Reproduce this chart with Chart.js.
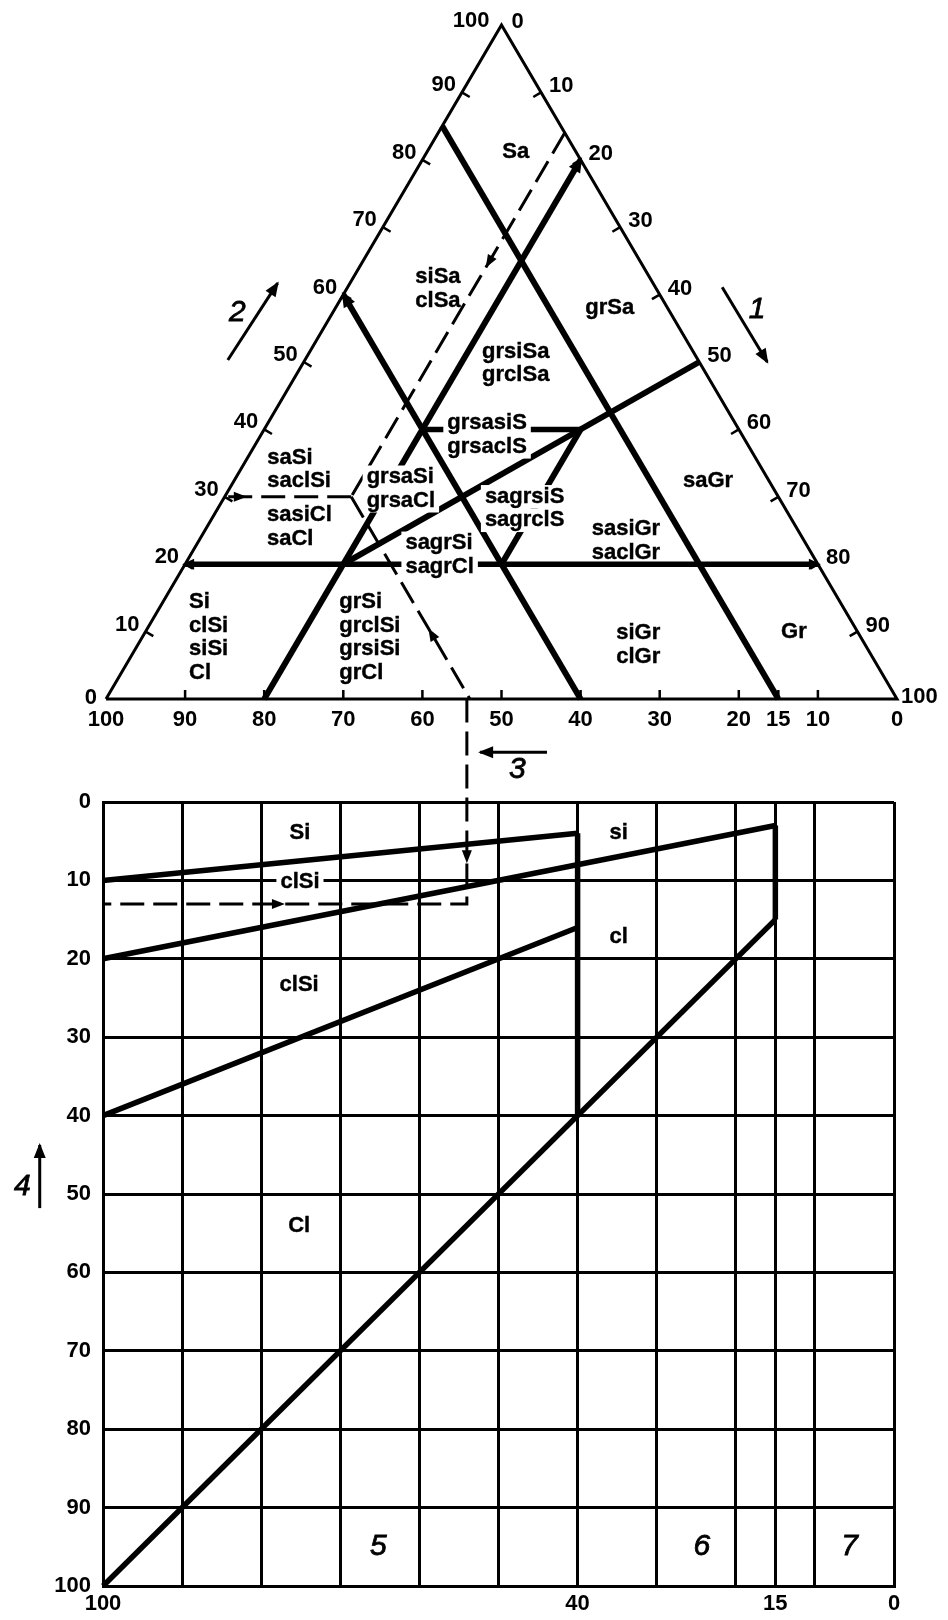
<!DOCTYPE html>
<html>
<head>
<meta charset="utf-8">
<script src="https://cdn.jsdelivr.net/npm/chart.js@4.4.1/dist/chart.umd.min.js"></script>
<style>
  html, body { margin: 0; padding: 0; background: #fff; }
  #wrap { position: relative; width: 948px; height: 1620px; }
  #ternary { position: absolute; left: 0; top: 0; }
  #grid { position: absolute; left: 0; top: 690px; }
</style>
</head>
<body>
<div id="wrap">
  <canvas id="ternary" width="948" height="790"></canvas>
  <canvas id="grid" width="948" height="930"></canvas>
</div>
<script>
// ---------- ternary diagram, points are [sand, gravel] ----------
// sand is read on the left side, gravel on the right side, fines (100 - sand - gravel) on the base
const sideValues = [0, 10, 20, 30, 40, 50, 60, 70, 80, 90, 100];
const sideTicks = [10, 20, 30, 40, 50, 60, 70, 80, 90];
const baseValues = [100, 90, 80, 70, 60, 50, 40, 30, 20, 15, 10, 0];
const baseTicks = [90, 80, 70, 60, 50, 40, 30, 20, 15, 10];

const outline = [[0, 0], [100, 0], [0, 100], [0, 0]];
const sand20 = [[20, 0], [20, 80]];
const gravel20 = [[0, 20], [80, 20]];
const fines40 = [[0, 60], [60, 0]];
const fines15 = [[0, 85], [85, 0]];
const sandEqGravel = [[20, 20], [50, 50]];
const sand40 = [[40, 20], [40, 40]];
const gravel40 = [[20, 40], [40, 40]];

// worked example: sand 30, gravel 16 -> fines 54
const exGravel = [[84, 16], [30, 16]];
const exSand = [[30, 16], [30, 0]];
const exFines = [[30, 16], [0, 46]];
const exArrows = [[[69, 16], [64, 16]], [[30, 0.8], [30, 2.8]], [[5.5, 40.5], [10.5, 35.5]]];

// mask: the name sits on a boundary line and hides it
const regionLabels = [
  { text: ['Sa'], at: [81.2, 9.5] },
  { text: ['siSa', 'clSa'], at: [62.6, 7.8] },
  { text: ['grSa'], at: [58.0, 31.6] },
  { text: ['grsiSa', 'grclSa'], at: [51.5, 21.8] },
  { text: ['grsasiS', 'grsaclS'], at: [40.9, 22.7], mask: true },
  { text: ['saSi', 'saclSi'], at: [35.8, 2.5] },
  { text: ['grsaSi', 'grsaCl'], at: [32.9, 16.5], mask: true },
  { text: ['sasiCl', 'saCl'], at: [27.3, 6.7] },
  { text: ['sagrsiS', 'sagrclS'], at: [30.0, 32.9], mask: true },
  { text: ['saGr'], at: [32.3, 56.8] },
  { text: ['sasiGr', 'saclGr'], at: [25.2, 48.8] },
  { text: ['sagrSi', 'sagrCl'], at: [23.1, 26.3], mask: true },
  { text: ['Si', 'clSi', 'siSi', 'Cl'], at: [14.4, 3.3] },
  { text: ['grSi', 'grclSi', 'grsiSi', 'grCl'], at: [14.4, 22.3] },
  { text: ['siGr', 'clGr'], at: [9.8, 59.6] },
  { text: ['Gr'], at: [9.9, 80.4] }
];

// direction arrows around the triangle, plain chart units [x, y]
const arrow1 = [[77.9, 61.1], [83.6, 50.0]];
const arrow2 = [[15.4, 50.3], [21.7, 61.7]];
const arrow3 = [[55.75, -7.9], [47.3, -7.9]];
const arrowNames = [{ text: '1', at: [82.3, 57.7] }, { text: '2', at: [16.6, 57.3] }, { text: '3', at: [52, -10.5] }];

// ---------- lower chart, points are [fines, clay] ----------
const finesGrid = [100, 90, 80, 70, 60, 50, 40, 30, 20, 15, 10, 0];
const finesLabels = [100, 40, 15, 0];
const clayGrid = [0, 10, 20, 30, 40, 50, 60, 70, 80, 90, 100];

const siBound = [[100, 10], [40, 4]];
const clSiUpper = [[100, 20], [15, 3]];
const clSiLower = [[100, 40], [40, 16]];
const fines40Edge = [[40, 4], [40, 40]];
const fines15Edge = [[15, 3], [15, 15]];
const clayEqFines = [[100, 100], [15, 15]];
const exClay = [[54, -13.2], [54, 13], [100, 13]]; // -13.2 reaches up to the triangle base
const exClayArrows = [[[54, 4], [54, 7.8]], [[81, 13], [77, 13]]];
const arrow4 = [[108, 51.8], [108, 43.75]];

const gridLabels = [
  { text: 'Si', at: [75.1, 4.0] },
  { text: 'si', at: [34.8, 4.0] },
  { text: 'clSi', at: [75.1, 10.2], mask: true },
  { text: 'cl', at: [34.8, 17.2] },
  { text: 'clSi', at: [75.2, 23.3] },
  { text: 'Cl', at: [75.2, 54.1] }
];
const zoneNames = [{ text: '5', at: [65.2, 95] }, { text: '6', at: [24.3, 95] }, { text: '7', at: [5.6, 95] }, { text: '4', at: [110.2, 49.1] }];

// ---------- helpers ----------
const FONT = '"Liberation Sans", Arial, sans-serif';
const tern = ([s, g]) => ({ x: g + s / 2, y: s });
const plain = ([x, y]) => ({ x, y });

function seg(points, conv, width, extra) {
  return Object.assign({
    data: points.map(conv), showLine: true, borderColor: '#000', borderWidth: width,
    pointRadius: 0, pointHoverRadius: 0, clip: false, fill: false
  }, extra || {});
}

function unitVec(dx, dy) {
  const n = Math.hypot(dx, dy) || 1;
  return [dx / n, dy / n];
}

function arrowHead(ctx, from, tip, len, half, push) {
  const [ux, uy] = unitVec(tip.x - from.x, tip.y - from.y);
  const tx = tip.x + ux * push, ty = tip.y + uy * push;
  const bx = tx - ux * len, by = ty - uy * len;
  ctx.beginPath();
  ctx.moveTo(tx, ty);
  ctx.lineTo(bx - uy * half, by + ux * half);
  ctx.lineTo(bx + uy * half, by - ux * half);
  ctx.closePath();
  ctx.fillStyle = '#000';
  ctx.fill();
}

function datasetArrows(chart) {
  chart.data.datasets.forEach((ds, i) => {
    const pts = chart.getDatasetMeta(i).data;
    const n = pts.length;
    if (n < 2) return;
    if (ds.arrowEnd) arrowHead(chart.ctx, pts[n - 2], pts[n - 1], ds.arrowLen, ds.arrowHalf, ds.arrowPush || 0);
    if (ds.arrowStart) arrowHead(chart.ctx, pts[1], pts[0], ds.arrowLen, ds.arrowHalf, ds.arrowPush || 0);
  });
}

function heavyText(ctx, t, x, y) {
  ctx.fillText(t, x, y);
  ctx.strokeText(t, x, y);
}

function labelLines(ctx, lines, x, y, align, gap, mask) {
  ctx.textAlign = 'left';
  ctx.textBaseline = 'middle';
  ctx.strokeStyle = '#000';
  ctx.lineWidth = 0.4;
  lines.forEach((t, i) => {
    const w = ctx.measureText(t).width;
    const cy = y + i * gap;
    const left = align === 'center' ? x - w / 2 : x;
    if (mask) {
      ctx.fillStyle = '#fff';
      ctx.fillRect(left - 4, cy - gap / 2, w + 8, gap);
    }
    ctx.fillStyle = '#000';
    heavyText(ctx, t, left, cy);
  });
}

// ---------- triangle ----------
const ternaryDecor = {
  id: 'ternaryDecor',
  afterDatasetsDraw(chart) {
    const { ctx } = chart;
    const sx = chart.scales.x, sy = chart.scales.y;
    const P = (s, g) => ({ x: sx.getPixelForValue(g + s / 2), y: sy.getPixelForValue(s) });
    const apex = P(100, 0), left = P(0, 0), right = P(0, 100);
    const [lx, ly] = unitVec(apex.x - left.x, apex.y - left.y);
    const [rx, ry] = unitVec(right.x - apex.x, right.y - apex.y);
    const tick = 9;

    ctx.save();
    datasetArrows(chart);
    exArrows.forEach(([a, b]) => arrowHead(ctx, P(a[0], a[1]), P(b[0], b[1]), 13, 5, 0));

    // tick marks pointing into the triangle
    ctx.strokeStyle = '#000';
    ctx.lineWidth = 2.5;
    ctx.beginPath();
    sideTicks.forEach(v => {
      const p = P(v, 0);
      ctx.moveTo(p.x, p.y); ctx.lineTo(p.x - ly * tick, p.y + lx * tick);
      const q = P(100 - v, v);
      ctx.moveTo(q.x, q.y); ctx.lineTo(q.x - ry * tick, q.y + rx * tick);
    });
    baseTicks.forEach(v => {
      const p = P(0, 100 - v);
      ctx.moveTo(p.x, p.y); ctx.lineTo(p.x, p.y - tick);
    });
    ctx.stroke();

    // tick labels
    ctx.fillStyle = '#000';
    ctx.font = 'bold 22px ' + FONT;
    ctx.textBaseline = 'middle';
    ctx.textAlign = 'right';
    sideValues.forEach(v => {
      const p = P(v, 0);
      const off = v === 0 ? [-9, -1] : v === 100 ? [-12, -4] : [-6, -7];
      ctx.fillText(String(v), p.x + off[0], p.y + off[1]);
    });
    ctx.textAlign = 'left';
    sideValues.forEach(v => {
      const p = P(100 - v, v);
      const off = v === 0 ? [10, -3] : v === 100 ? [4, -2] : [8, -6];
      ctx.fillText(String(v), p.x + off[0], p.y + off[1]);
    });
    ctx.textAlign = 'center';
    baseValues.forEach(v => {
      const p = P(0, 100 - v);
      ctx.fillText(String(v), p.x, p.y + 21);
    });

    // soil names
    ctx.font = 'bold 22px ' + FONT;
    regionLabels.forEach(l => {
      const p = P(l.at[0], l.at[1]);
      labelLines(ctx, l.text, p.x, p.y, 'left', 23.5, l.mask);
    });

    ctx.font = 'italic 30px ' + FONT;
    ctx.textAlign = 'center';
    ctx.textBaseline = 'middle';
    ctx.lineWidth = 0.8;
    arrowNames.forEach(a => {
      heavyText(ctx, a.text, sx.getPixelForValue(a.at[0]), sy.getPixelForValue(a.at[1]));
    });
    ctx.restore();
  }
};

const thick = 6;
const dashed = { borderDash: [24, 9] };
const headThick = { arrowLen: 15, arrowHalf: 6.5, arrowPush: 3 };
const headThin = { arrowEnd: true, arrowLen: 15, arrowHalf: 6, arrowPush: 2 };

new Chart(document.getElementById('ternary'), {
  type: 'scatter',
  data: {
    datasets: [
      seg(outline, tern, 3, { borderJoinStyle: 'miter' }),
      seg(sand20, tern, 5.5, Object.assign({ arrowStart: true, arrowEnd: true }, headThick, { arrowLen: 12, arrowHalf: 5.5 })),
      seg(gravel20, tern, thick, Object.assign({ arrowEnd: true }, headThick)),
      seg(fines40, tern, thick, Object.assign({ arrowEnd: true }, headThick)),
      seg(fines15, tern, thick),
      seg(sandEqGravel, tern, thick),
      seg(sand40, tern, 5.5),
      seg(gravel40, tern, thick),
      seg(exGravel, tern, 3, dashed),
      seg(exSand, tern, 3, dashed),
      seg(exFines, tern, 3, dashed),
      seg(arrow1, plain, 3, headThin),
      seg(arrow2, plain, 3, headThin),
      seg(arrow3, plain, 3, headThin)
    ]
  },
  options: {
    responsive: false,
    animation: false,
    events: [],
    layout: { padding: { left: 106, right: 51, top: 25, bottom: 91 } },
    plugins: { legend: { display: false }, tooltip: { enabled: false } },
    scales: {
      x: { type: 'linear', min: 0, max: 100, display: false },
      y: { type: 'linear', min: 0, max: 100, display: false }
    }
  },
  plugins: [ternaryDecor]
});

// ---------- lower grid chart ----------
const gridDecor = {
  id: 'gridDecor',
  afterDatasetsDraw(chart) {
    const { ctx } = chart;
    const sx = chart.scales.x, sy = chart.scales.y;
    const P = ([f, c]) => ({ x: sx.getPixelForValue(f), y: sy.getPixelForValue(c) });
    ctx.save();
    datasetArrows(chart);
    exClayArrows.forEach(([a, b]) => arrowHead(ctx, P(a), P(b), 13, 5, 0));
    ctx.font = 'bold 22px ' + FONT;
    gridLabels.forEach(l => {
      const p = P(l.at);
      labelLines(ctx, [l.text], p.x, p.y, 'center', 24, l.mask);
    });
    ctx.font = 'italic 30px ' + FONT;
    ctx.fillStyle = '#000';
    ctx.strokeStyle = '#000';
    ctx.lineWidth = 0.8;
    ctx.textAlign = 'center';
    ctx.textBaseline = 'middle';
    zoneNames.forEach(z => {
      const p = P(z.at);
      heavyText(ctx, z.text, p.x, p.y);
    });
    ctx.restore();
  }
};

const tickFont = { family: FONT, size: 22, weight: 'bold' };

new Chart(document.getElementById('grid'), {
  type: 'scatter',
  data: {
    datasets: [
      seg(siBound, plain, 5.5),
      seg(clSiUpper, plain, 5.5),
      seg(clSiLower, plain, 5.5),
      seg(fines40Edge, plain, 5.5),
      seg(fines15Edge, plain, 5.5),
      seg(clayEqFines, plain, 5.5),
      seg(exClay, plain, 3, dashed),
      seg(arrow4, plain, 3, headThin)
    ]
  },
  options: {
    responsive: false,
    animation: false,
    events: [],
    layout: { padding: { left: 0, right: 54, top: 112, bottom: 0 } },
    plugins: { legend: { display: false }, tooltip: { enabled: false } },
    scales: {
      x: {
        type: 'linear', reverse: true, min: 0, max: 100,
        afterBuildTicks: s => { s.ticks = finesGrid.map(v => ({ value: v })); },
        afterFit: s => { s.height = 34; },
        grid: { color: '#000', lineWidth: 3, drawTicks: false },
        border: { color: '#000', width: 3 },
        ticks: {
          autoSkip: false, maxRotation: 0, padding: 5, color: '#000', font: tickFont,
          callback: v => finesLabels.includes(v) ? String(v) : ''
        }
      },
      y: {
        type: 'linear', reverse: true, min: 0, max: 100,
        afterBuildTicks: s => { s.ticks = clayGrid.map(v => ({ value: v })); },
        afterFit: s => { s.width = 103; },
        grid: { color: '#000', lineWidth: 3, drawTicks: false },
        border: { color: '#000', width: 3 },
        ticks: { autoSkip: false, padding: 12, color: '#000', font: tickFont }
      }
    }
  },
  plugins: [gridDecor]
});
</script>
</body>
</html>
